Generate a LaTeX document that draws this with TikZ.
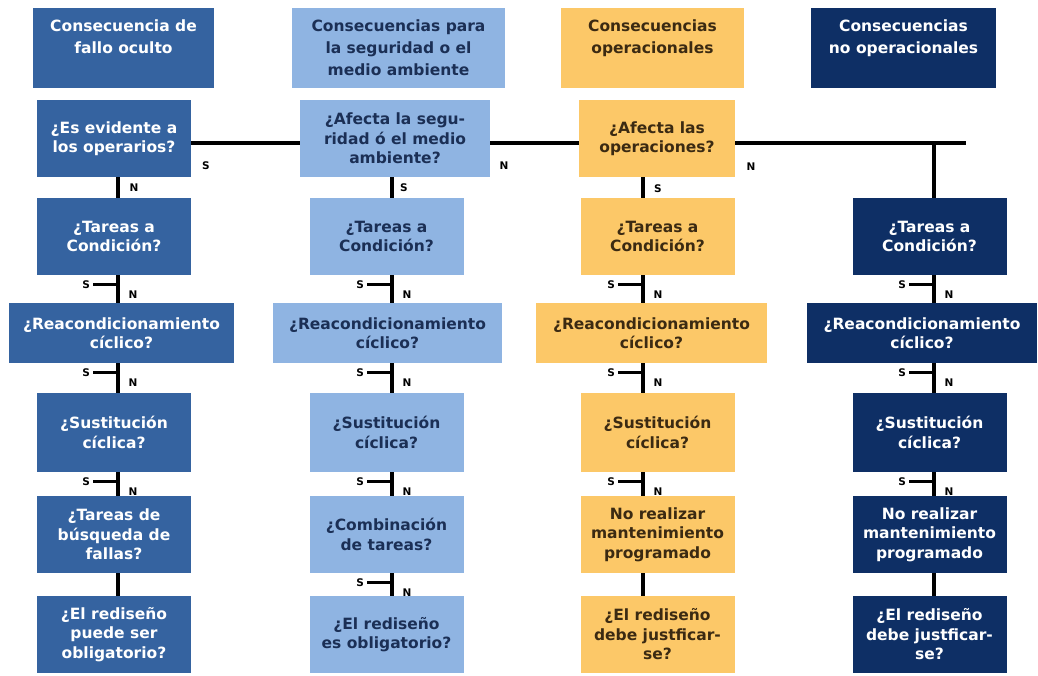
\documentclass[tikz,border=0pt]{standalone}
\usepackage{fontspec}
\setmainfont{DejaVu Sans}
\definecolor{ocultoc}{HTML}{3563A0}
\definecolor{segurc}{HTML}{8FB4E2}
\definecolor{segurt}{HTML}{1B2F55}
\definecolor{operc}{HTML}{FCC868}
\definecolor{opert}{HTML}{3B2A12}
\definecolor{nooperc}{HTML}{0E2F65}
\tikzset{
  box/.style={minimum width=154pt, minimum height=77pt, align=center, inner sep=2pt,
    font=\bfseries\fontsize{15.5}{19.5}\selectfont},
  wide/.style={minimum width=229pt, minimum height=60pt},
  head/.style={box, minimum height=80pt, font=\bfseries\fontsize{15.5}{22}\selectfont},
  oculto/.style={fill=ocultoc, text=white},
  segur/.style={fill=segurc, text=segurt},
  oper/.style={fill=operc, text=opert},
  nooper/.style={fill=nooperc, text=white},
  link/.style={line width=3.4pt},
  tick/.style={line width=3.2pt},
  lbl/.style={font=\bfseries\fontsize{10.5}{10.5}\selectfont, inner sep=1.5pt}
}
\begin{document}
\begin{tikzpicture}[x=1pt,y=-1pt]
\fill[white] (0,0) rectangle (1038,675);
\useasboundingbox (0,0) rectangle (1038,675);
\coordinate (l1) at (118,0);
\coordinate (l2) at (392,0);
\coordinate (l3) at (643,0);
\coordinate (l4) at (934,0);
\coordinate (hl) at (0,143);
\coordinate (e4) at (966,143);

\node[head,oculto,minimum width=181pt] (h1) at (123.5,48) {Consecuencia de\\fallo oculto\\~};
\node[head,segur,minimum width=213pt] (h2) at (398.5,48) {Consecuencias para\\la seguridad o el\\medio ambiente};
\node[head,oper,minimum width=183pt] (h3) at (652.5,48) {Consecuencias\\operacionales\\~};
\node[head,nooper,minimum width=185pt] (h4) at (903.5,48) {Consecuencias\\no operacionales\\~};

\node[box,oculto] (q1) at (114,138.5) {¿Es evidente a\\los operarios?};
\node[box,segur,minimum width=190pt] (q2) at (395,138.5) {¿Afecta la segu-\\ridad ó el medio\\ambiente?};
\node[box,oper,minimum width=156pt] (q3) at (657,138.5) {¿Afecta las\\operaciones?};

\node[box,oculto] (t1) at (114,236.5) {¿Tareas a\\Condición?};
\node[box,segur] (t2) at (386.5,236.5) {¿Tareas a\\Condición?};
\node[box,oper] (t3) at (657.5,236.5) {¿Tareas a\\Condición?};
\node[box,nooper] (t4) at (929.5,236.5) {¿Tareas a\\Condición?};

\node[box,wide,oculto,minimum width=225pt] (r1) at (121.5,333) {¿Reacondicionamiento\\cíclico?};
\node[box,wide,segur] (r2) at (387.5,333) {¿Reacondicionamiento\\cíclico?};
\node[box,wide,oper,minimum width=231pt] (r3) at (651.5,333) {¿Reacondicionamiento\\cíclico?};
\node[box,wide,nooper,minimum width=230pt] (r4) at (922,333) {¿Reacondicionamiento\\cíclico?};

\node[box,oculto,minimum height=79pt] (s1) at (114,432.5) {¿Sustitución\\cíclica?};
\node[box,segur,minimum height=79pt] (s2) at (386.5,432.5) {¿Sustitución\\cíclica?};
\node[box,oper,minimum height=79pt] (s3) at (657.5,432.5) {¿Sustitución\\cíclica?};
\node[box,nooper,minimum height=79pt] (s4) at (929.5,432.5) {¿Sustitución\\cíclica?};

\node[box,oculto] (b1) at (114,534.5) {¿Tareas de\\búsqueda de\\fallas?};
\node[box,segur] (b2) at (386.5,534.5) {¿Combinación\\de tareas?};
\node[box,oper] (b3) at (657.5,534.5) {No realizar\\mantenimiento\\programado};
\node[box,nooper] (b4) at (929.5,534.5) {No realizar\\mantenimiento\\programado};

\node[box,oculto] (d1) at (114,634.5) {¿El rediseño\\puede ser\\obligatorio?};
\node[box,segur] (d2) at (386.5,634.5) {¿El rediseño\\es obligatorio?};
\node[box,oper] (d3) at (657.5,634.5) {¿El rediseño\\debe justficar-\\se?};
\node[box,nooper] (d4) at (929.5,634.5) {¿El rediseño\\debe justficar-\\se?};

\draw[link] (q1.east |- hl) -- (q2.west |- hl);
\draw[link] (q2.east |- hl) -- (q3.west |- hl);
\draw[link] (q3.east |- hl) -- (e4);
\draw[link] (l4 |- hl) -- (t4.north -| l4);

\node[lbl] at (206,166) {S};
\node[lbl] at (504,166) {N};
\node[lbl] at (751,167) {N};
\node[lbl] at (134,188) {N};
\node[lbl] at (404,188) {S};
\node[lbl] at (658,189) {S};

\foreach \a/\b/\l in {q1/t1/l1,q2/t2/l2,q3/t3/l3,b1/d1/l1,b3/d3/l3,b4/d4/l4}
  \draw[link] (\a.south -| \l) -- (\b.north -| \l);

\foreach \a/\b/\l in {t1/r1/l1,r1/s1/l1,s1/b1/l1,t2/r2/l2,r2/s2/l2,s2/b2/l2,b2/d2/l2,t3/r3/l3,r3/s3/l3,s3/b3/l3,t4/r4/l4,r4/s4/l4,s4/b4/l4}{
  \draw[link] (\a.south -| \l) -- (\b.north -| \l);
  \draw[tick] (\a.south -| \l) ++(0,9) -- ++(-25,0) node[lbl,left] {S};
  \path (\a.south -| \l) ++(15,19) node[lbl] {N};
}
\end{tikzpicture}
\end{document}
